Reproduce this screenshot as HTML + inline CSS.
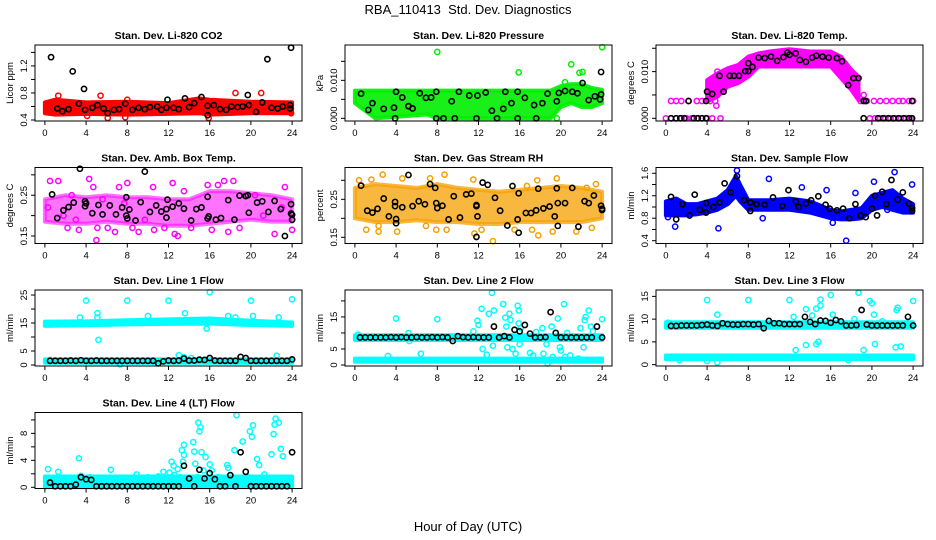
<!DOCTYPE html>
<html><head><meta charset="utf-8">
<style>
body{margin:0;background:#fff;}
svg{display:block;font-family:"Liberation Sans",Arial,sans-serif;}
.tt{font-size:10.5px;font-weight:bold;}
.tk{font-size:9.5px;}
</style></head>
<body>
<svg id="chart" width="936" height="540" viewBox="0 0 936 540" xmlns="http://www.w3.org/2000/svg">
<rect width="936" height="540" fill="#fff"/>
<text x="468" y="14" text-anchor="middle" font-size="13">RBA_110413&#160; Std. Dev. Diagnostics</text>
<text x="468" y="531" text-anchor="middle" font-size="13">Hour of Day (UTC)</text>
</svg>
<script>
const HALF=[0.5,1,1.5,2,2.5,3,3.5,4,4.5,5,5.5,6,6.5,7,7.5,8,8.5,9,9.5,10,10.5,11,11.5,12,12.5,13,13.5,14,14.5,15,15.5,16,16.5,17,17.5,18,18.5,19,19.5,20,20.5,21,21.5,22,22.5,23,23.5,24];
const xTicks=[0,4,8,12,16,20,24];

// P1 CO2
const co2BandH=[0,1,4,8,12,15,16,20,24];
const co2Lo=[0.5,0.48,0.49,0.48,0.49,0.5,0.48,0.5,0.5];
const co2Hi=[0.66,0.7,0.66,0.67,0.65,0.72,0.7,0.67,0.66];
const co2OutX=[1.3,5.4,6.1,8,15.9,18.5,21,23.9,7.8,4.1];
const co2OutY=[0.76,0.76,0.43,0.7,0.43,0.8,0.8,0.5,0.44,0.46];
const co2BlkX=[0.6,2.7,3.8,21.6,23.9,13.6,11.9,15.2,19.7,3.3,1.2,1.7,2.3,3.9,4.6,5.1,5.7,6.1,6.7,7.2,7.8,8.5,9.1,9.7,10.2,10.9,11.3,11.8,12.5,13,14,14.5,15.8,15.8,16.4,17,17.6,18.1,18.7,19.2,19.8,20.5,21.1,22,22.6,23.1,23.8,23.8];
const co2BlkY=[1.33,1.12,0.86,1.3,1.47,0.72,0.7,0.74,0.77,0.64,0.57,0.53,0.56,0.55,0.58,0.62,0.57,0.5,0.55,0.56,0.64,0.55,0.58,0.56,0.59,0.6,0.55,0.58,0.58,0.56,0.59,0.65,0.61,0.47,0.62,0.56,0.55,0.6,0.59,0.6,0.62,0.52,0.66,0.58,0.57,0.6,0.62,0.57];

// P2 Pressure
const prBandH=[0,1,2,7,8,19,20,21,22,23,24];
const prLo=[0.004,0.002,0,0.001,0,0,0.003,0.004,0.003,0.003,0.004];
const prHi=[0.0073,0.0073,0.0073,0.0073,0.0073,0.0073,0.0085,0.009,0.009,0.008,0.0075];
const prOutX=[8,24,15.9,21,22.1,21.8,20.4,19.6,14.5];
const prOutY=[0.0175,0.0187,0.0121,0.0142,0.0122,0.012,0.0095,0,0.0035];
const prBlkX=[0.6,1.3,1.7,2.8,3.8,3.9,4,4.6,5.2,5.6,6.3,6.9,7.4,7.9,7.9,8.6,9.4,9.7,10.1,11.1,11.8,11.9,12.7,13.3,13.8,14.4,14.6,15.2,15.8,15.8,16.5,17.4,17.6,18.2,18.7,19.6,19.8,20.4,21.1,21.6,22.1,22.7,23.3,23.9,23.9,23.8];
const prBlkY=[0.0065,0.0022,0.004,0.0025,0.0028,0,0.007,0.0055,0.0032,0.0026,0.0066,0.0054,0.0055,0.007,0,0,0.0045,0,0.007,0.006,0,0.006,0.0068,0.002,0,0.0025,0.007,0.004,0.007,0,0.0054,0.0035,0,0.004,0.0065,0.0045,0.0067,0.0072,0.007,0.0066,0.0093,0.0048,0.0058,0.0122,0.0063,0.005];

// P3 Temp
const tpBandH=[4,5,6,7,8,9,10,12,14,16,17,18,18.7];
const tpLo=[0.0036,0.0046,0.0068,0.0075,0.0089,0.0111,0.0111,0.0111,0.0111,0.0111,0.0086,0.0061,0.0039];
const tpHi=[0.0082,0.0096,0.0107,0.0114,0.0132,0.0139,0.0143,0.0148,0.0143,0.0143,0.0132,0.0104,0.0089];
const tpOutX=[0,0.5,1,1.5,2,2.5,3,3.5,4,4.5,5.3,0.5,1,1.5,2.2,3,3.5,4.3,4.8,19.8,20.3,20.8,21.3,21.8,22.3,22.8,23.3,23.8,18.9,19.5,20.2,20.8,21.4,22,22.6,23,23.6,24,5,4.9,19.2];
const tpOutY=[0,0,0,0,0,0,0,0,0,0,0,0.0037,0.0037,0.0037,0.0037,0.0037,0.0037,0.0037,0.0037,0,0,0,0,0,0,0,0,0,0.0037,0.0037,0.0037,0.0037,0.0037,0.0037,0.0037,0.0037,0.0037,0.0037,0.01,0.0027,0.005];
const tpBlkX=[0.5,1,1.4,1.8,2.7,3.1,3.5,3.9,2.2,3.9,4,4.5,5.2,5.6,6.2,6.6,7.1,7.7,8,8,8.4,9,9.6,10.2,10.8,11.4,11.8,12,12.6,13,13.6,14.2,14.6,15.2,15.8,16.6,17.1,17.7,18.2,18.7,19.2,19.4,19.2,20.6,21.1,21.6,22.1,22.6,23.1,23.6,23.9,23.9];
const tpBlkY=[0,0,0,0,0,0,0,0,0.0037,0.0037,0.0057,0.0052,0.0091,0.0057,0.0091,0.0091,0.0091,0.0101,0.0118,0.0101,0.011,0.013,0.0129,0.0132,0.0123,0.0131,0.0141,0.0136,0.0139,0.0125,0.0121,0.013,0.0134,0.0132,0.013,0.0129,0.0122,0.0071,0.0086,0.0086,0.0037,0.0037,0,0,0,0,0,0,0,0,0,0.0037];

// P4 Amb box temp
const amBandH=[0,2,4,6,8,10,12,14,16,18,20,22,24];
const amLo=[0.185,0.18,0.18,0.185,0.18,0.18,0.175,0.175,0.18,0.185,0.19,0.185,0.185];
const amHi=[0.24,0.25,0.245,0.25,0.245,0.245,0.24,0.24,0.26,0.26,0.255,0.25,0.24];
const amOutX=[0.3,0.5,1.3,1.8,2.2,3,3.3,4.3,4.7,5,5.1,5.6,6.1,6.8,7.2,7.7,8,8.5,9.1,9.7,10.6,11.6,12.4,12.6,12.9,13.5,14.2,15.8,16.2,16.8,17.4,17.8,18.3,18.9,20.4,21.2,22.3,23,23.3,24,2.6,10.5];
const amOutY=[0.22,0.285,0.285,0.2,0.17,0.19,0.165,0.29,0.27,0.14,0.17,0.24,0.17,0.16,0.27,0.23,0.28,0.17,0.16,0.19,0.165,0.17,0.28,0.155,0.15,0.26,0.17,0.275,0.165,0.275,0.285,0.16,0.285,0.17,0.25,0.2,0.155,0.22,0.27,0.165,0.25,0.27];
const amBlkX=[0.7,1.2,1.8,2.3,2.8,3.4,3.9,4,3.9,4.6,5.2,5.6,6.3,6.9,7.5,7.9,7.9,8,8.2,8.8,9.3,9.7,10.2,10.8,11.3,11.8,11.8,11.9,12.4,13,13.5,14.2,14.7,15.2,15.8,15.9,15.8,16.6,17.1,17.8,18.4,18.9,19.5,19.7,19.8,20.6,21.1,21.7,22.3,22.9,23.3,23.9,23.9,24,24];
const amBlkY=[0.252,0.194,0.213,0.221,0.232,0.315,0.235,0.23,0.223,0.206,0.226,0.203,0.225,0.203,0.22,0.245,0.2,0.193,0.215,0.188,0.233,0.308,0.209,0.225,0.21,0.216,0.195,0.239,0.222,0.23,0.217,0.188,0.216,0.22,0.246,0.198,0.193,0.19,0.194,0.238,0.19,0.249,0.248,0.25,0.207,0.232,0.235,0.209,0.236,0.216,0.15,0.228,0.205,0.202,0.19];

// P5 Gas stream RH
const rhBandH=[0,2,4,6,8,10,12,14,16,18,20,22,24];
const rhLo=[0.2,0.19,0.19,0.195,0.19,0.19,0.185,0.185,0.19,0.19,0.19,0.19,0.2];
const rhHi=[0.28,0.29,0.285,0.28,0.29,0.28,0.275,0.27,0.275,0.28,0.285,0.28,0.27];
const rhOutX=[2.7,1.6,4.6,8.7,7.3,11.5,16.7,17.7,19.6,22.5,23.4,0.4,1.1,2.3,2.3,4.1,6.9,7.9,8.9,11.6,12.3,13.4,15.5,17.2,17.8,19.2,21.5,23];
const rhOutY=[0.315,0.302,0.305,0.315,0.305,0.302,0.285,0.3,0.305,0.28,0.29,0.3,0.17,0.165,0.18,0.165,0.18,0.17,0.17,0.16,0.17,0.14,0.17,0.17,0.155,0.165,0.165,0.175];
const rhBlkX=[0.6,1.2,1.7,2.2,2.8,3.3,3.9,3.9,4,4,4.6,5.2,5.6,6.2,6.8,7.3,7.8,7.9,8,8.5,9.1,9.6,10.2,10.8,11.3,11.8,11.8,11.9,11.8,12.4,12.9,13.6,14.1,14.8,15.3,15.8,15.9,15.9,16.6,17.1,17.6,17.8,18.3,18.9,19.4,19.6,19.7,19.7,20.4,21.1,21.7,22.3,22.7,23.2,23.9,24,24];
const rhBlkY=[0.286,0.22,0.215,0.225,0.252,0.205,0.243,0.232,0.198,0.187,0.229,0.314,0.232,0.245,0.237,0.29,0.28,0.24,0.227,0.233,0.197,0.258,0.202,0.263,0.265,0.235,0.232,0.205,0.151,0.294,0.288,0.254,0.22,0.181,0.285,0.197,0.266,0.162,0.214,0.214,0.221,0.278,0.226,0.231,0.205,0.279,0.24,0.18,0.24,0.28,0.178,0.245,0.24,0.26,0.233,0.222,0.225];

// P6 Sample flow
const sfBandH=[0,1,2,3,4,5,6,6.8,7.2,8,10,12,14,16,17,18,19,20,21,22,23,24];
const sfLo=[0.85,0.85,0.85,0.87,0.9,0.95,1.05,1.2,1.1,0.95,0.95,0.95,0.9,0.8,0.78,0.78,0.8,0.95,1.0,0.95,0.9,0.9];
const sfHi=[1.1,1.15,1.05,1.05,1.1,1.15,1.3,1.55,1.4,1.12,1.12,1.15,1.1,0.95,0.92,0.95,0.98,1.2,1.25,1.3,1.15,1.05];
const sfOutX=[5.1,17.5,10,22.2,20.2,6.9,0.9,13.2,18.4,0.2,9.4,15.6,16.2,21.5,23.9];
const sfOutY=[0.62,0.4,1.5,1.62,1.45,1.65,0.65,1.35,1.25,0.82,0.8,1.3,0.72,0.95,1.4];
const sfBlkX=[0.5,1,1.6,2.3,2.8,3.3,3.9,3.9,4.6,5.2,5.7,6.3,6.9,7.6,8.2,8.2,8.8,9.6,10.4,11.3,11.9,12.6,12.9,13.6,14.1,14.8,15.5,15.9,16.6,17.2,17.8,18.4,18.9,19.4,20,20.3,20.5,21,21.4,21.9,22.5,23,23.6,23.9,23.9];
const sfBlkY=[1.18,0.78,1.05,0.85,1.22,0.95,1.07,0.9,1.0,1.08,1.42,1.26,1.55,1.12,1.08,0.93,1.05,1.04,1.17,1.02,1.3,1.1,1.0,1.06,1.12,1.19,1.04,0.97,0.94,0.97,0.8,1.05,0.85,0.82,0.97,1.2,0.85,1.27,1.05,1.48,1.13,1.26,1.06,0.93,0.98];

// P7 Line 1
const l1BandH=[0,4,8,12,16,20,24];
const l1Lo=[14,14.2,14.5,14.7,14.8,14.3,14];
const l1Hi=[15.5,15.6,16,16.3,16.6,15.8,15.2];
const l1LowH=[0,24];
const l1LowLo=[0.8,0.8];
const l1LowHi=[2,2];
const l1OutX=[4,8,12,16,20,24,5.1,5.1,5.2,13.6,15.7,3.4,10,17.8,18.5,20.2,22.7,13,22.5,7.3,13.5,14.2,0.5];
const l1OutY=[23,23,23,26,23,23.5,18.5,17,9,18.5,13,17,17.5,17.5,17,17.5,17,3.5,3.3,0.2,2.8,2.5,1.8];
const l1Blk=[1.5,1.5,1.5,1.5,1.6,1.5,1.7,1.5,1.5,1.6,1.5,1.5,1.5,1.5,1.5,1.5,1.5,1.5,1.5,1.5,1.5,0.6,1.3,1.6,1.5,1.6,2.3,1.6,1.6,1.9,1.8,2.5,1.6,1.5,1.5,1.5,1.5,2.9,2.5,1.5,1.5,1.5,1.5,1.5,1.5,1.5,1.5,2.0];

// P8 Line 2
const l2BandH=[0,24];
const l2Lo=[7.8,7.8];
const l2Hi=[9.3,9.3];
const l2LowH=[0,24];
const l2LowLo=[1,1];
const l2LowHi=[2,2];
const l2OutX=[0.3,4,5.2,5.3,6.4,8,11.5,11.9,12,12.3,12.4,12.8,13,13.3,13.4,13.5,14.4,14.6,14.7,14.8,15,15.1,15.3,15.6,15.8,15.9,15.9,16,16.1,17,17.3,17.6,18.2,18.3,18.6,18.7,19.1,19.2,19.7,19.9,20,20.3,20.4,20.6,20.9,21.9,22.2,22.3,22.4,22.7,22.9,23.1,24,3.2,21.7];
const l2OutY=[9.5,14.5,10,7.5,3.5,14.3,10.5,13.8,12.5,17.5,5,3.2,16,22.5,6,17,19,14.8,12,5.5,16,14,5,3.5,18.5,17,13,6.5,11.5,3.8,3,10.3,11.5,3.5,6.5,0.5,12,2.5,14.5,5.5,4.5,19,2.5,10,3,11.5,5.5,14,15,17,12,10.5,14.3,2.8,2];
const l2Blk=[8.6,8.6,8.6,8.6,8.6,8.6,8.7,8.6,8.7,8.6,8.6,8.7,8.6,8.6,8.7,8.6,8.7,8.6,7.5,9.0,8.7,8.6,8.7,8.6,8.6,8.6,12,8.6,9.0,8.6,11,10.5,12.5,9.8,8.6,8.6,8.7,16.5,10,8.6,8.6,8.6,8.6,8.6,8.6,8.6,12,8.6];

// P9 Line 3
const l3BandH=[0,24];
const l3Lo=[8.1,8.1];
const l3Hi=[9.3,9.3];
const l3LowH=[0,24];
const l3LowLo=[1.2,1.2];
const l3LowHi=[2,2];
const l3OutX=[4,8,12,16,18.7,19.8,20,24,15,15,13.6,14.6,22.5,22.4,5,20.2,13.6,14.6,14.8,20.3,22.3,12.6,19.2,5,4,17.7,1.3,0.2,12.4,14.2,16.2,18.3,21,22.8];
const l3OutY=[14.2,14.2,14.2,15.3,15.8,14,13.5,14,14.3,13,12.2,12.3,12.5,12,11,11,4.3,4.5,5,4.5,3.8,3.2,3.2,0.5,0.8,1,1,9.2,10.5,10.8,11,10,9.5,4];
const l3Blk=[8.5,8.5,8.6,8.6,8.6,8.6,8.7,8.8,8.6,8.5,9.1,8.9,8.8,8.8,8.9,8.9,8.8,8.9,8.0,9.6,9.1,9.1,8.9,8.9,8.9,8.9,10.5,9.4,8.9,9.7,9.6,9.2,9.8,9.5,8.6,8.6,8.7,12,8.8,8.6,8.6,8.6,8.6,8.6,8.6,8.6,10.5,8.6];

// P10 Line 4
const l4BandH=[0,24];
const l4Lo=[0,0];
const l4Hi=[0.4,0.4];
const l4LowH=[0,24];
const l4LowLo=[0.8,0.8];
const l4LowHi=[1.6,1.6];
const l4OutX=[0.3,0.2,1.3,0.5,1,1.6,2.1,3.3,3.5,4.4,5.2,6.1,6.4,7.2,7.6,8.3,8.9,9.1,10,11,11.5,12.1,12.3,12.5,12.6,12.9,13.1,13.3,13.5,13.4,13.5,14.4,14.5,14.6,14.8,14.9,15,15.1,15.2,15.4,15.6,16,16.2,16.8,17.7,17.8,18,18.4,18.6,19.1,19.2,19.7,19.9,20.2,20.1,20.6,20.8,21.3,21.6,22,22.2,22.3,22.4,22.7,22.8,22.9,23.1,23.6];
const l4OutY=[2.7,1.4,2.3,1.2,1,1.2,1.3,4.3,1.7,1.5,1.4,1.3,2.6,1.1,1,1.3,1.9,1.4,1.5,1.6,2.3,2.2,3.8,3.2,1.8,2.7,1.5,5.5,6.3,3.8,4.8,6.7,5.3,3.5,1.5,9.6,8.3,8.9,5.2,2.5,4.5,3.4,2.5,1.5,3.3,2.9,1.3,5.5,10.7,1.3,6.8,1.5,8.3,9.2,7.5,4.2,3.3,1.9,1.4,4.9,7.9,9.3,10.2,9.6,1.3,5.7,4.6,1.2];
const l4Blk=[0.7,0.15,0.15,0.15,0.15,0.4,1.5,1.2,1.1,0.15,0.15,0.15,0.15,0.15,0.15,0.15,0.15,0.15,0.15,0.15,0.15,0.15,0.15,0.15,0.15,0.15,3.2,1.3,0.15,2.6,1.3,2.1,1.2,0.15,0.15,1.8,0.15,5.2,2.3,0.15,0.15,0.15,0.15,0.15,0.15,0.15,0.15,5.2];

const NS='http://www.w3.org/2000/svg';
const svg=document.getElementById('chart');
const cols=[[35,302],[345,612],[656,923]];
const rowTops=[45,167.5,290,412.5];
const BOXH=76;

const panels=[
 {name:'co2',title:'Stan. Dev. Li-820 CO2',yl:'Licor ppm',c:0,r:0,ymin:0.385,ymax:1.51,ticks:[0.4,0.6,0.8,1.0,1.2,1.4],labs:['0.4','','0.8','','1.2',''],col:'#ff0000',op:1,
  bands:[[co2BandH,co2Lo,co2Hi]],ox:co2OutX,oy:co2OutY,bx:co2BlkX,by:co2BlkY},
 {name:'pressure',title:'Stan. Dev. Li-820 Pressure',yl:'kPa',c:1,r:0,ymin:-0.0007,ymax:0.0193,ticks:[0,0.005,0.01,0.015],labs:['0.000','','0.010',''],col:'#00ee00',op:0.9,
  bands:[[prBandH,prLo,prHi]],ox:prOutX,oy:prOutY,bx:prBlkX,by:prBlkY},
 {name:'temp',title:'Stan. Dev. Li-820 Temp.',yl:'degrees C',c:2,r:0,ymin:-0.00058,ymax:0.0157,ticks:[0,0.005,0.01,0.015],labs:['0.000','','0.010',''],col:'#ff00ff',op:1,
  bands:[[tpBandH,tpLo,tpHi]],ox:tpOutX,oy:tpOutY,bx:tpBlkX,by:tpBlkY},
 {name:'amb-box',title:'Stan. Dev. Amb. Box Temp.',yl:'degrees C',c:0,r:1,ymin:0.1316,ymax:0.318,ticks:[0.15,0.2,0.25,0.3],labs:['0.15','','0.25',''],col:'#ff00ff',op:0.55,
  bands:[[amBandH,amLo,amHi]],ox:amOutX,oy:amOutY,bx:amBlkX,by:amBlkY},
 {name:'gas-rh',title:'Stan. Dev. Gas Stream RH',yl:'percent',c:1,r:1,ymin:0.1337,ymax:0.3337,ticks:[0.15,0.2,0.25,0.3],labs:['0.15','','0.25',''],col:'#f5a000',op:0.75,
  bands:[[rhBandH,rhLo,rhHi]],ox:rhOutX,oy:rhOutY,bx:rhBlkX,by:rhBlkY},
 {name:'sample-flow',title:'Stan. Dev. Sample Flow',yl:'ml/min',c:2,r:1,ymin:0.35,ymax:1.703,ticks:[0.4,0.6,0.8,1.0,1.2,1.4,1.6],labs:['0.4','','0.8','','1.2','','1.6'],col:'#0000ff',op:1,
  bands:[[sfBandH,sfLo,sfHi]],ox:sfOutX,oy:sfOutY,bx:sfBlkX,by:sfBlkY},
 {name:'line1',title:'Stan. Dev. Line 1 Flow',yl:'ml/min',c:0,r:2,ymin:-0.36,ymax:26.8,ticks:[0,5,10,15,20,25],labs:['0','5','','15','','25'],col:'#00ffff',op:1,
  bands:[[l1BandH,l1Lo,l1Hi],[l1LowH,l1LowLo,l1LowHi]],ox:l1OutX,oy:l1OutY,bx:HALF,by:l1Blk},
 {name:'line2',title:'Stan. Dev. Line 2 Flow',yl:'ml/min',c:1,r:2,ymin:-0.31,ymax:23.4,ticks:[0,5,10,15,20],labs:['0','5','','15',''],col:'#00ffff',op:1,
  bands:[[l2BandH,l2Lo,l2Hi],[l2LowH,l2LowLo,l2LowHi]],ox:l2OutX,oy:l2OutY,bx:HALF,by:l2Blk},
 {name:'line3',title:'Stan. Dev. Line 3 Flow',yl:'ml/min',c:2,r:2,ymin:-0.3,ymax:16.4,ticks:[0,5,10,15],labs:['0','5','10','15'],col:'#00ffff',op:1,
  bands:[[l3BandH,l3Lo,l3Hi],[l3LowH,l3LowLo,l3LowHi]],ox:l3OutX,oy:l3OutY,bx:HALF,by:l3Blk},
 {name:'line4',title:'Stan. Dev. Line 4 (LT) Flow',yl:'ml/min',c:0,r:3,ymin:-0.18,ymax:11.1,ticks:[0,2,4,6,8,10],labs:['0','','4','','8',''],col:'#00ffff',op:1,
  bands:[[l4BandH,l4Lo,l4Hi],[l4LowH,l4LowLo,l4LowHi]],ox:l4OutX,oy:l4OutY,bx:HALF,by:l4Blk}
];

function mk(tag,attrs,parent){const e=document.createElementNS(NS,tag);for(const k in attrs)e.setAttribute(k,attrs[k]);(parent||svg).appendChild(e);return e;}

panels.forEach(p=>{
 const L=cols[p.c][0],R=cols[p.c][1],T=rowTops[p.r],B=T+BOXH;
 const xs=h=>L+(h+0.96)/25.92*(R-L);
 const ys=v=>B-(v-p.ymin)/(p.ymax-p.ymin)*BOXH;
 const g=mk('g',{});
 
 
 const clip=mk('clipPath',{id:'clip-'+p.name},g);
 mk('rect',{x:L-3,y:T-3,width:R-L+6,height:BOXH+6},clip);
 const plot=mk('g',{'clip-path':'url(#clip-'+p.name+')'},g);
 p.bands.forEach(bd=>{
  const [H,lo,hi]=bd;
  let pts=[];
  for(let i=0;i<H.length;i++)pts.push(xs(H[i])+','+ys(hi[i]));
  for(let i=H.length-1;i>=0;i--)pts.push(xs(H[i])+','+ys(lo[i]));
  const poly=mk('polygon',{points:pts.join(' '),fill:p.col,'fill-opacity':p.op,stroke:p.col,'stroke-width':4,'stroke-opacity':p.op,'stroke-linejoin':'round'},plot);
  
  
 });
 for(let i=0;i<p.ox.length;i++){
  const c=mk('circle',{cx:xs(p.ox[i]),cy:ys(p.oy[i]),r:2.6,fill:'none',stroke:p.col,'stroke-width':1.5},plot);
  
  
 }
 for(let i=0;i<p.bx.length;i++){
  const c=mk('circle',{cx:xs(p.bx[i]),cy:ys(p.by[i]),r:2.6,fill:'none',stroke:'#000','stroke-width':1.6},plot);
  
  
 }
 const box=mk('rect',{x:L,y:T,width:R-L,height:BOXH,fill:'none',stroke:'#000','stroke-width':1},g);
 
 
 const t=mk('text',{x:(L+R)/2,y:T-6,'text-anchor':'middle',class:'tt'},g);
 t.textContent=p.title;
 
 
 xTicks.forEach(h=>{
  mk('line',{x1:xs(h),x2:xs(h),y1:B,y2:B+4,stroke:'#000'},g);
  const tl=mk('text',{x:xs(h),y:B+15,'text-anchor':'middle',class:'tk'},g);
  tl.textContent=h;
  
  
 });
 p.ticks.forEach((v,i)=>{
  const y=ys(v);
  mk('line',{x1:L-4,x2:L,y1:y,y2:y,stroke:'#000'},g);
  if(p.labs[i]){
   const tl=mk('text',{x:L-8,y:y,transform:'rotate(-90 '+(L-8)+' '+y+')','text-anchor':'middle',class:'tk'},g);
   tl.textContent=p.labs[i];
   
   
  }
 });
 const yt=mk('text',{x:L-22,y:(T+B)/2,transform:'rotate(-90 '+(L-22)+' '+((T+B)/2)+')','text-anchor':'middle',class:'tk'},g);
 yt.textContent=p.yl;
 
 
});
</script>
</body></html>
